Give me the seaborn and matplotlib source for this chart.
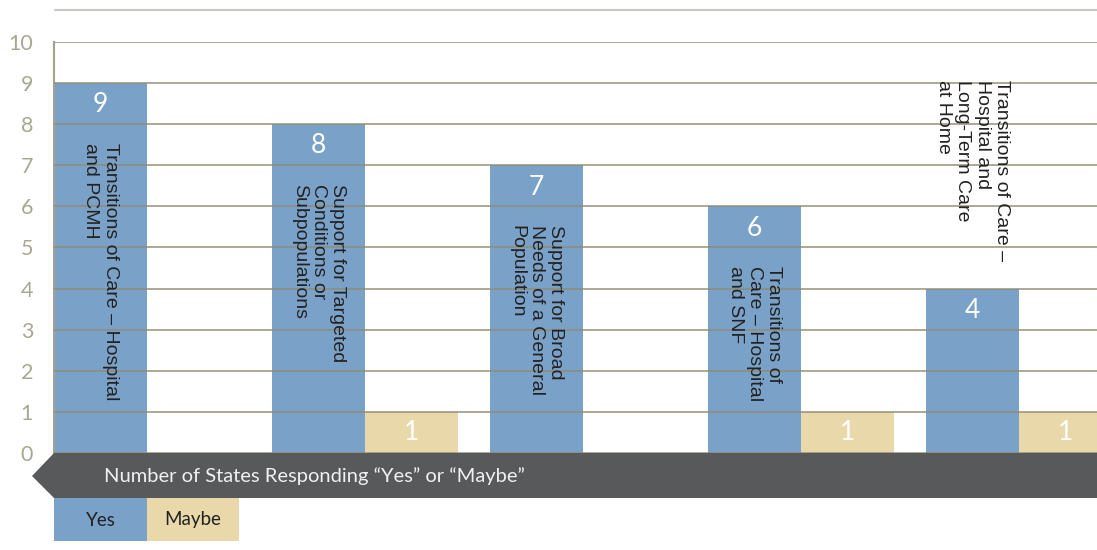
import matplotlib
matplotlib.use("Agg")
import matplotlib.pyplot as plt
from matplotlib.patches import Polygon, Rectangle
from matplotlib.lines import Line2D
import seaborn as sns
import pandas as pd

# Survey results: states answering "Yes" / "Maybe" for each program area
categories = [
    "Transitions of Care – Hospital\nand PCMH",
    "Support for Targeted\nConditions or\nSubpopulations",
    "Support for Broad\nNeeds of a General\nPopulation",
    "Transitions of\nCare – Hospital\nand SNF",
    "Transitions of Care –\nHospital and\nLong-Term Care\nat Home",
]
yes_counts = [9, 8, 7, 6, 4]
maybe_counts = [0, 1, 0, 1, 1]
responses = ["Yes", "Maybe"]
y_ticks = list(range(0, 11))

BLUE = "#7aa1c7"
TAN = "#e8d8aa"
GRID = "#8f8c70"
TICK = "#a8a892"
BANNER = "#58595b"

rows = []
for cat, y, m in zip(categories, yes_counts, maybe_counts):
    rows.append({"category": cat, "response": "Yes", "count": y})
    rows.append({"category": cat, "response": "Maybe", "count": m})
df = pd.DataFrame(rows)

sns.set_style("white")
plt.rcParams["font.family"] = ["Liberation Sans", "DejaVu Sans"]

W, H = 1097, 550
fig = plt.figure(figsize=(W / 100, H / 100), dpi=100)
ax = fig.add_axes([54 / W, 1 - 453 / H, 1 - 54 / W, (453 - 42) / H])

BAR_W = 0.853
sns.barplot(data=df, x="category", y="count", hue="response",
            order=categories, hue_order=responses,
            palette={"Yes": BLUE, "Maybe": TAN}, width=BAR_W,
            linewidth=0, saturation=1, legend=False, ax=ax)

ax.set_ylim(0, 10)
ax.set_xlim(-BAR_W / 2, -BAR_W / 2 + (W - 54) / 218)
ax.set_yticks(y_ticks)
ax.set_yticklabels([str(t) for t in y_ticks], fontsize=15.5,
                   color=TICK, family="Lato")
ax.tick_params(axis="y", length=0, pad=15)
ax.set_xticks([])
ax.set_xlabel("")
ax.set_ylabel("")
for side in ["top", "right", "bottom"]:
    ax.spines[side].set_visible(False)
ax.spines["left"].set_color("#a4a28e")
ax.spines["left"].set_linewidth(1.5)

ax.yaxis.grid(True, color=GRID, linewidth=1.3, alpha=0.8)
ax.set_axisbelow(False)

# value labels and category labels
half = BAR_W / 2
for i, (cat, y, m) in enumerate(zip(categories, yes_counts, maybe_counts)):
    xc_yes = i - half / 2
    xc_maybe = i + half / 2
    ax.text(xc_yes, y - 0.53, str(y), ha="center", va="center",
            color="white", fontsize=19, family="Lato", zorder=5)
    if m > 0:
        ax.text(xc_maybe, m / 2, str(m), ha="center", va="center",
                color="white", fontsize=19, family="Lato", zorder=5)
    if y >= 5:
        ax.text(xc_yes, y - 1.45, cat, rotation=270, ha="center", va="top",
                multialignment="left", color="#222222", fontsize=14,
                linespacing=1.17, zorder=5)
    else:
        ax.text(xc_yes, 9.08, cat, rotation=270, ha="center",
                va="top", multialignment="left", color="#222222",
                fontsize=14, linespacing=1.17, zorder=5)

# thin rule above the plot
fig.add_artist(Line2D([55 / W, 1], [1 - 10 / H, 1 - 10 / H],
                      color="#c8c8c2", linewidth=1.5))

# arrow-shaped axis banner
banner = Polygon([(54 / W, 1 - 453 / H), (32 / W, 1 - 476 / H),
                  (54 / W, 1 - 498 / H), (1, 1 - 498 / H),
                  (1, 1 - 453 / H)], closed=True, facecolor=BANNER,
                 edgecolor="none", transform=fig.transFigure)
fig.add_artist(banner)
fig.text(104 / W, 1 - 476 / H,
         "Number of States Responding “Yes” or “Maybe”",
         ha="left", va="center", color="#f0f0f0", fontsize=14.5,
         family="Lato")

# legend swatches
for label, color, x0, x1 in [("Yes", BLUE, 54, 147), ("Maybe", TAN, 147, 239)]:
    fig.add_artist(Rectangle((x0 / W, 1 - 541 / H), (x1 - x0) / W, 43 / H,
                             facecolor=color, edgecolor="none",
                             transform=fig.transFigure))
    fig.text((x0 + x1) / 2 / W, 1 - 520 / H, label, ha="center",
             va="center", color="#222222", fontsize=13.5, family="Lato")

fig.savefig("out.png", dpi=100)
